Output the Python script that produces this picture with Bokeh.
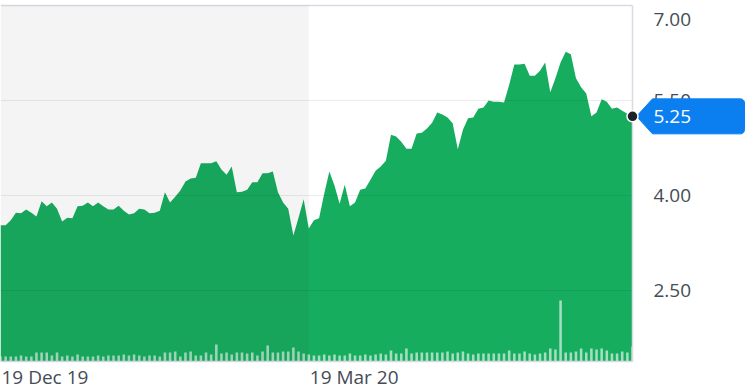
import numpy as np
from bokeh.plotting import figure
from bokeh.models import Range1d, BoxAnnotation
from bokeh.core.properties import value
from bokeh.embed import file_html
from bokeh.resources import INLINE

# ---------------- data ----------------
price = [3.53, 3.53, 3.61, 3.73, 3.72, 3.78, 3.73, 3.67, 3.91, 3.83,
         3.89, 3.79, 3.59, 3.65, 3.64, 3.83, 3.84, 3.89, 3.83, 3.89,
         3.83, 3.78, 3.78, 3.84, 3.76, 3.70, 3.72, 3.79, 3.78, 3.72,
         3.73, 3.76, 4.05, 3.89, 3.98, 4.08, 4.22, 4.27, 4.28, 4.51,
         4.51, 4.51, 4.54, 4.41, 4.33, 4.46, 4.05, 4.06, 4.09, 4.21,
         4.21, 4.35, 4.35, 4.38, 4.05, 3.89, 3.79, 3.37, 3.65, 3.94,
         3.48, 3.61, 3.64, 4.03, 4.38, 4.16, 3.87, 4.17, 3.83, 3.89,
         4.09, 4.11, 4.25, 4.39, 4.46, 4.55, 4.96, 4.93, 4.85, 4.74,
         4.74, 4.98, 4.99, 5.06, 5.15, 5.31, 5.28, 5.23, 5.14, 4.73,
         5.04, 5.22, 5.23, 5.37, 5.39, 5.50, 5.48, 5.48, 5.47, 5.75,
         6.07, 6.07, 6.08, 5.89, 5.89, 5.97, 6.10, 5.63, 5.85, 6.10,
         6.27, 6.23, 5.85, 5.71, 5.61, 5.25, 5.31, 5.52, 5.48, 5.37,
         5.39, 5.34, 5.29, 5.25]

volume = [5, 5, 5, 5, 6, 5, 5, 9, 9, 9, 6, 9, 5,
          6, 5, 7, 5, 5, 5, 6, 5, 6, 6, 6, 7, 6, 7, 6, 5, 6, 6, 5,
          9, 9, 10, 5, 9, 10, 6, 6, 9, 7, 17,
          8, 9, 7, 9, 9, 8, 9, 6, 10, 16,
          9, 9, 10, 10, 14, 10, 8,
          7, 6, 6, 7, 6, 7, 6, 6, 8, 6, 6, 7, 6, 7,
          8, 7, 11, 8, 8, 13, 8, 9, 9, 9, 9, 9, 9, 10, 8, 9, 10, 8, 7, 8,
          8, 8, 8, 8, 8, 11, 8, 8, 10, 8, 7, 8, 9, 13, 12,
          61,
          9, 9, 10, 13, 9, 13, 12, 13, 11, 8, 8, 10, 9, 15]

x_ticks = [0, 60]
x_tick_labels = ["19 Dec 19", "19 Mar 20"]
y_ticks = [2.5, 4.0, 5.5, 7.0]
y_top = 7.0
y_bottom = 1.38
shade_end = 60

idx = list(range(len(price)))

# ---------------- style / layout ----------------
GREEN = "#17ad5f"
BORDER = "#d9dae2"
TEXT = "#454c55"
BLUE = "#0b7ff0"
FONT = value("Open Sans")
FS = value("19px")

W, H = 750, 389
FT, FB, FR = 5, 361, 632          # chart box edges in pixels (left edge at 0)

ppx = FR / (idx[-1] - idx[0])
ppy = (FB - FT) / (y_top - y_bottom)
x_range = Range1d(idx[0], idx[-1] + (W - FR) / ppx)
y_range = Range1d(y_bottom - (H - FB) / ppy, y_top + FT / ppy)

p = figure(width=W, height=H, output_backend="svg", toolbar_location=None,
           x_range=x_range, y_range=y_range, x_axis_location=None, y_axis_location=None,
           min_border=0, outline_line_color=None,
           background_fill_color="white", border_fill_color="white")
p.grid.visible = False
p.extra_y_ranges = {"vol": Range1d(-(H - FB), FB)}   # 1 volume unit per pixel

# price area and volume bars
p.varea(x=idx, y1=y_bottom, y2=price, fill_color=GREEN)
p.vbar(x=idx, top=volume, bottom=0, width=0.5, y_range_name="vol",
       fill_color="white", fill_alpha=0.6, line_color=None)

# grid lines (stop at the chart's right edge)
grid_y = [t for t in y_ticks if t < y_top]
p.segment(x0=[idx[0]] * len(grid_y), x1=[idx[-1]] * len(grid_y), y0=grid_y, y1=grid_y,
          line_color="black", line_alpha=0.08, line_width=1)

# chart box border: top, right, bottom
p.segment(x0=[idx[0], idx[-1], idx[0]], x1=[idx[-1], idx[-1], idx[-1]],
          y0=[y_top, y_bottom, y_bottom], y1=[y_top, y_top, y_bottom],
          line_color=BORDER, line_width=1.5)

# shaded earlier period
p.add_layout(BoxAnnotation(right=shade_end, top=y_top, bottom=y_bottom,
                           fill_color="black", fill_alpha=0.045, line_color=None))

# y tick labels (top one nudged inside the box)
label_nudge = [14 if t == y_top else 0 for t in y_ticks]
p.text(x=[idx[-1]] * len(y_ticks), y=y_ticks, text=[f"{t:.2f}" for t in y_ticks],
       x_offset=21, y_offset=label_nudge, text_align="left", text_baseline="middle",
       text_font=FONT, text_font_size=FS, text_color=TEXT)

# x tick labels
p.text(x=x_ticks, y=[y_bottom] * len(x_ticks), text=x_tick_labels,
       x_offset=1, y_offset=15, text_align="left", text_baseline="middle",
       text_font=FONT, text_font_size=FS, text_color=TEXT)

# last-price tag
lx, ly = idx[-1], price[-1]
tip, base, right, hh, rad = 4, 20, 112, 17.5, 4
ang = np.linspace(0, np.pi / 2, 8)
tag_px = [(tip, 0.0), (base, hh)]
tag_px += [(right - rad + rad * np.cos(a), hh - rad + rad * np.sin(a)) for a in ang[::-1]]
tag_px += [(right - rad + rad * np.cos(a), -hh + rad - rad * np.sin(a)) for a in ang]
tag_px += [(base, -hh)]
p.patch(x=[lx + dx / ppx for dx, dy in tag_px], y=[ly + dy / ppy for dx, dy in tag_px],
        fill_color=BLUE, line_color=BLUE, line_width=1)
p.text(x=[lx], y=[ly], text=[f"{ly:.2f}"], x_offset=21, text_align="left",
       text_baseline="middle", text_font=FONT, text_font_size=FS, text_color="white")

# last-price dot
p.scatter(x=[lx], y=[ly], size=11, fill_color="#1e2228", line_color="white", line_width=1.5)

open("out.html", "w").write(file_html(p, INLINE))
